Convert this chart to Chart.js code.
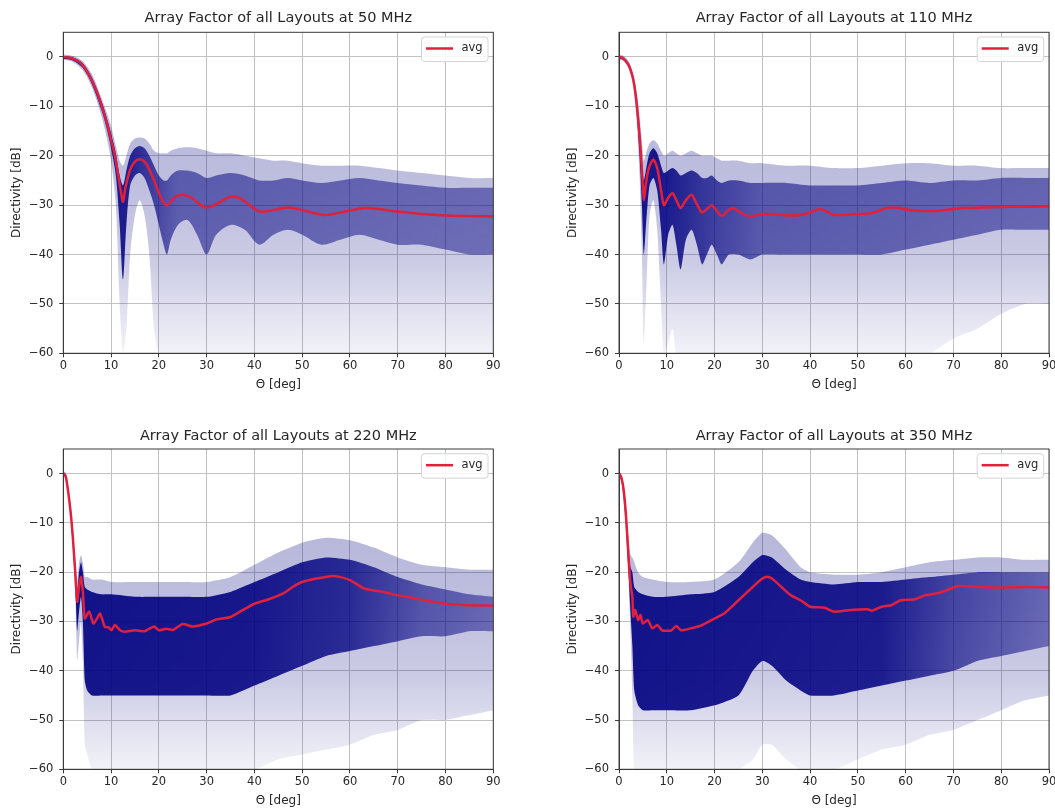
<!DOCTYPE html>
<html><head><meta charset="utf-8">
<script src="https://cdn.jsdelivr.net/npm/chart.js@4"></script>
<style>
html,body{margin:0;padding:0;background:#fff;}
body{width:1055px;height:810px;position:relative;overflow:hidden;}
canvas{position:absolute;}
</style></head><body>
<canvas id="c1" width="527" height="405" style="left:0;top:0"></canvas>
<canvas id="c2" width="499" height="405" style="left:556px;top:0"></canvas>
<canvas id="c3" width="527" height="405" style="left:0;top:405px"></canvas>
<canvas id="c4" width="499" height="405" style="left:556px;top:405px"></canvas>
<script>
// ---------- titles ----------
const titles = ['Array Factor of all Layouts at 50 MHz','Array Factor of all Layouts at 110 MHz','Array Factor of all Layouts at 220 MHz','Array Factor of all Layouts at 350 MHz'];
const xLabel = '\u0398 [deg]';
const yLabel = 'Directivity [dB]';
const legendLabel = 'avg';

// ---------- 50 MHz ----------
const theta50 = [0,1,2,3,4,5,6,7,8,9,10,10.8,11.5,12,12.5,13,14,15,16,17,18,19,20,21,21.7,22.5,23.5,25,27,28.5,30,32,35,37,39,41,44,47,50,54.5,58,63,66,70,75,80,85,90];
const avg50 = [0,-0.1,-0.35,-0.8,-1.6,-3,-4.8,-7,-9.8,-13,-16.8,-20,-24,-27,-29.3,-26.5,-22.8,-21.2,-20.7,-21.2,-22.8,-25,-27.5,-29.5,-30,-29.3,-28.3,-27.9,-28.6,-29.8,-30.5,-29.8,-28.3,-28.6,-30,-31.3,-31,-30.5,-31,-32,-31.5,-30.6,-30.8,-31.3,-31.8,-32.1,-32.2,-32.3];
const env50 = [0,2,4,6,8,9,10,11,11.8,12.5,13.2,14,15,16,17,18,19,20,21,21.7,22.5,24,26,28,30,32,35,38,41,44,47,50,54,58,62,66,70,75,80,85,90];
const hi50 = [0.5,0.2,-0.8,-3.5,-8.3,-11,-14,-18,-21,-22,-20,-17.5,-16.5,-16.3,-16.5,-17.5,-19,-19.5,-19.5,-19.5,-19,-18.5,-18.3,-18.5,-19,-19.5,-19.5,-20,-20.5,-21,-21,-21.5,-22,-22,-22,-22.5,-23,-23.5,-24,-24.5,-24.5];
const coreHi50 = [0.2,-0.1,-1.2,-4.2,-9,-12,-15.5,-19.5,-24,-26,-23,-20,-18.5,-18,-18.5,-20,-22,-24,-25,-25,-24,-23,-23,-23.5,-24.5,-24,-23.5,-24,-25,-25,-24.5,-25,-25.5,-25,-24.5,-25,-25.5,-26,-26.5,-26.5,-26.5];
const coreLo50 = [-0.3,-0.7,-2.1,-5.5,-10.8,-14.2,-18.5,-24,-34,-45,-34,-26,-24,-23.5,-24.5,-27,-30,-34,-38,-40,-37,-34,-33,-36,-40,-36,-34,-35,-38,-36,-35,-36,-38,-37,-36,-37,-38,-38,-39,-40,-40];
const lo50 = [-0.5,-1,-2.6,-6.2,-12,-16,-21,-30,-50,-60,-55,-40,-32,-29,-32,-40,-55,-60,-60,-60,-60,-60,-60,-60,-60,-60,-60,-60,-60,-60,-60,-60,-60,-60,-60,-60,-60,-60,-60,-60,-60];

// ---------- 110 MHz ----------
const theta110 = [0,0.5,1,1.5,2,2.5,3,3.5,4,4.5,5,5.2,5.6,6,6.5,7.2,8,8.8,9.4,10.3,11.2,12,12.9,14,15.2,16.3,17.4,18.4,19.4,20.5,21.5,22.7,23.8,25.5,27.4,30,33,36,38,40,42,43.5,45,50,53,56,58,60,62,66,69,72,76,80,85,90];
const avg110 = [0,-0.1,-0.4,-0.9,-1.6,-2.8,-4.6,-7.8,-12.5,-18.5,-26,-29,-26,-23.5,-21.8,-20.8,-22.5,-27,-30,-28.5,-27.6,-29,-30.6,-29,-27.9,-29.8,-31.5,-30.8,-30,-31.2,-32.2,-31.2,-30.6,-31.5,-32.3,-31.8,-31.9,-32.1,-32,-31.5,-30.8,-31.3,-32,-31.8,-31.6,-30.6,-30.5,-30.9,-31.1,-31.2,-30.9,-30.6,-30.5,-30.4,-30.3,-30.2];
const env110 = [0,1,2,3,3.7,4.3,4.8,5.2,5.8,6.4,7.2,8,8.8,9.4,10.3,11.2,12,12.9,14,15.2,16.3,17.4,18.4,19.4,20.5,21.5,23,25,27.5,30,35,40,45,50,55,60,65,70,75,80,85,90];
const hi110 = [0.5,0.2,-0.8,-3.5,-7,-12,-17,-21,-19,-17.5,-16.8,-17.5,-19,-20,-19.5,-19,-19.5,-20,-19.5,-19,-19.5,-20,-20,-20,-20.5,-21,-21,-21,-21.5,-21.5,-22,-22,-22.5,-22.5,-22,-21.5,-21.5,-22,-22,-22.5,-22.5,-22.5];
const coreHi110 = [0.2,-0.2,-1.3,-4.2,-8.5,-14,-21,-25,-22,-19.5,-18.5,-19.5,-22,-23.5,-23,-22.5,-23,-24,-23.5,-23,-23.5,-24.5,-24.5,-24,-25,-25.5,-25,-25,-25.5,-25.5,-25.5,-26,-26,-26,-25.5,-25,-25.5,-25,-25,-24.5,-24.5,-24.5];
const coreLo110 = [-0.3,-0.6,-1.9,-5,-11,-20,-30,-40,-32,-26,-24.5,-27,-35,-42,-36,-34,-38,-43,-37,-35,-38,-42,-40,-38,-40,-42,-40,-40,-41,-40,-40,-40,-40,-40,-40,-39,-38,-37,-36,-35,-35,-35];
const lo110 = [-0.5,-0.9,-2.4,-6,-13,-24,-40,-58,-45,-32,-29,-35,-50,-60,-58,-55,-60,-60,-60,-60,-60,-60,-60,-60,-60,-60,-60,-60,-60,-60,-60,-60,-60,-60,-60,-60,-60,-57,-55,-52,-50,-50];

// ---------- 220 MHz ----------
const theta220 = [0,0.5,1,1.5,1.75,2,2.5,2.9,3.3,3.7,4.1,4.5,5.4,6.3,7,7.7,8.7,9.5,10.1,10.8,11.9,12.9,15,17,19,20,21.5,23,25,27,30,32,35,37,40,43,46,48,50,53,56,58,60,63,67,70,73,76,80,85,90];
const avg220 = [0,-0.5,-3.5,-7.5,-10,-13,-20,-26,-23,-21,-24,-29.4,-28,-30.4,-29.5,-28.4,-31.1,-31.2,-31.8,-30.7,-31.8,-32.1,-31.8,-32,-31,-31.8,-31.5,-31.7,-30.5,-31,-30.4,-29.6,-29.1,-28,-26.4,-25.5,-24.3,-23,-22,-21.3,-20.8,-21,-21.6,-23.3,-24,-24.7,-25.2,-25.8,-26.4,-26.7,-26.8];
const env220 = [0,0.5,1,1.5,2,2.5,2.9,3.3,3.7,4.1,4.5,5,6,8,10,15,20,25,30,35,40,45,50,55,60,65,70,75,80,85,90];
const hi220 = [0.5,0.3,-2.5,-6,-11.5,-18,-22,-18,-16.5,-18,-21,-21,-21.5,-21.5,-22,-22,-22,-22,-22,-21,-18.5,-16,-14,-13,-13.5,-15,-17,-18.5,-19,-19.5,-19.5];
const coreHi220 = [0.2,-0.2,-3,-7,-12.5,-19.5,-24,-20,-18,-20,-23,-23.5,-24,-24.5,-24.5,-25,-25,-25,-25,-24,-22,-20,-18,-17,-17.5,-19,-21,-22.5,-23.5,-24.5,-25];
const coreLo220 = [-0.3,-0.8,-4,-8,-14,-22,-32,-28,-25,-30,-42,-44,-45,-45,-45,-45,-45,-45,-45,-45,-43,-41,-39,-37,-36,-35,-34,-33,-33,-32,-32];
const lo220 = [-0.5,-1,-4.5,-9,-15,-24,-38,-34,-30,-38,-55,-57,-60,-60,-60,-60,-60,-60,-60,-60,-60,-58,-57,-56,-55,-53,-52,-50,-50,-49,-48];

// ---------- 350 MHz ----------
const theta350 = [0,0.5,1,1.5,2,2.4,2.8,3,3.4,4,4.5,5,6,7,8,9,10,11,12,13,15,17,20,22,25,28,30,31,32,34,36,38,40,43,45,48,52,53,55,57,59,62,64,67,70,71,75,80,85,90];
const avg350 = [0,-0.8,-3.5,-9,-17,-22.3,-25,-29,-27.7,-29.7,-28.7,-30.4,-29.7,-31.4,-30.7,-31.8,-31.9,-31.8,-30.9,-31.8,-31.4,-30.9,-29.4,-28.4,-25.7,-23,-21.3,-20.9,-21.3,-23,-24.7,-25.7,-27,-27.2,-28,-27.7,-27.5,-27.8,-27,-26.7,-25.7,-25.5,-24.7,-24.2,-23.1,-22.8,-23,-23.1,-23,-23.1];
const env350 = [0,0.5,1,1.5,2,2.4,2.8,3.2,4,5,7,10,15,20,25,28,30,32,35,38,40,45,50,55,60,65,70,75,80,85,90];
const hi350 = [0.5,0,-2.5,-7.5,-13,-16.5,-17,-18,-20,-21,-21.5,-22,-22,-21.5,-18,-14,-12,-12.5,-15.5,-19,-20,-20.5,-20.5,-20,-19,-18,-17.5,-17,-17,-17.5,-17.5];
const coreHi350 = [0.2,-0.4,-3.2,-8.5,-15,-19,-20,-23,-24,-24.5,-25,-25,-24.5,-24,-21,-18,-16.5,-17,-19.5,-21.5,-22,-22.5,-22,-22,-21.5,-21,-20.5,-20,-20,-20,-20];
const coreLo350 = [-0.3,-1.2,-5,-11,-20,-28,-35,-44,-47,-48,-48,-48,-48,-47,-45,-40,-38,-39,-42,-44,-45,-45,-44,-43,-42,-41,-40,-38,-37,-36,-35];
const lo350 = [-0.5,-1.6,-6,-12,-22,-32,-45,-60,-60,-60,-60,-60,-60,-60,-60,-58,-55,-55,-58,-60,-60,-60,-58,-56,-55,-53,-52,-50,-48,-46,-45];

// ---------- styling / layout ----------
const FONT = "'DejaVu Sans', 'Liberation Sans', sans-serif";
const TXT = '#262626';
const RED = '#e0203c';
const panels = [
  {id:'c1', title:titles[0], w:527, h:405, area:{l:63.3,t:32.3,r:493.3,b:353.3}, titleY:18.5, xLabY:385,
   theta:theta50, avg:avg50, env:env50, hi:hi50, cHi:coreHi50, cLo:coreLo50, lo:lo50,
   coreStops:[[0,0.9],[13,0.85],[17,0.72],[24,0.52],[90,0.46]], tension:0.3},
  {id:'c2', title:titles[1], w:499, h:405, area:{l:63,t:32.3,r:493,b:353.3}, titleY:18.5, xLabY:385,
   theta:theta110, avg:avg110, env:env110, hi:hi110, cHi:coreHi110, cLo:coreLo110, lo:lo110,
   coreStops:[[0,0.9],[10,0.86],[20,0.68],[30,0.55],[90,0.48]], tension:0.25},
  {id:'c3', title:titles[2], w:527, h:405, area:{l:63.3,t:44,r:493.3,b:364.3}, titleY:31, xLabY:396,
   theta:theta220, avg:avg220, env:env220, hi:hi220, cHi:coreHi220, cLo:coreLo220, lo:lo220,
   coreStops:[[0,0.9],[40,0.88],[60,0.78],[75,0.56],[90,0.46]], tension:0.2},
  {id:'c4', title:titles[3], w:499, h:405, area:{l:63,t:44,r:493,b:364.3}, titleY:31, xLabY:396,
   theta:theta350, avg:avg350, env:env350, hi:hi350, cHi:coreHi350, cLo:coreLo350, lo:lo350,
   coreStops:[[0,0.9],[55,0.86],[70,0.64],[90,0.46]], tension:0.2}
];

function pts(xs, ys){ return xs.map((x,i)=>({x:x, y:ys[i]})); }

const framePlugin = {
  id:'frame',
  afterDatasetsDraw(chart){
    const a = chart.chartArea, c = chart.ctx;
    c.save();
    c.strokeStyle = '#3a3a3a'; c.lineWidth = 1;
    c.strokeRect(a.left, a.top, a.right - a.left, a.bottom - a.top);
    // legend
    const bw = 66.5, bh = 24.5;
    const x = a.right - 5.3 - bw, y = a.top + 4.7;
    c.beginPath();
    if (c.roundRect) c.roundRect(x, y, bw, bh, 3); else c.rect(x, y, bw, bh);
    c.fillStyle = 'rgba(255,255,255,0.85)'; c.fill();
    c.strokeStyle = '#d4d4d4'; c.lineWidth = 1; c.stroke();
    c.beginPath(); c.moveTo(x + 4.5, y + 11.5); c.lineTo(x + 31.5, y + 11.5);
    c.strokeStyle = RED; c.lineWidth = 2.5; c.stroke();
    c.fillStyle = TXT; c.font = "11.5px " + FONT; c.textBaseline = 'middle'; c.textAlign = 'left';
    c.fillText(legendLabel, x + 40, y + 11.5);
    c.restore();
  }
};

panels.forEach(p => {
  const faintColor = (ctx) => {
    const ch = ctx.chart;
    if (!ch.chartArea || !ch.scales.y) return 'rgba(0,0,128,0.18)';
    const ys = ch.scales.y;
    const g = ch.ctx.createLinearGradient(0, ys.getPixelForValue(0), 0, ys.getPixelForValue(-60));
    g.addColorStop(0, 'rgba(0,0,128,0.30)');
    g.addColorStop(0.4, 'rgba(0,0,128,0.26)');
    g.addColorStop(0.7, 'rgba(0,0,128,0.2)');
    g.addColorStop(0.85, 'rgba(0,0,128,0.12)');
    g.addColorStop(1, 'rgba(0,0,128,0.05)');
    return g;
  };
  const coreColor = (ctx) => {
    const ch = ctx.chart;
    if (!ch.chartArea || !ch.scales.x) return 'rgba(0,0,128,0.6)';
    const xs = ch.scales.x;
    const x0 = xs.getPixelForValue(0), x1 = xs.getPixelForValue(90);
    const g = ch.ctx.createLinearGradient(x0, 0, x1, 0);
    p.coreStops.forEach(s => g.addColorStop(s[0] / 90, 'rgba(0,0,128,' + s[1] + ')'));
    return g;
  };
  const band = {borderWidth:0, pointRadius:0, tension:p.tension, borderColor:'rgba(0,0,0,0)'};
  new Chart(document.getElementById(p.id), {
    type:'line',
    data:{ datasets:[
      {label:legendLabel, data:pts(p.theta, p.avg), borderColor:RED, borderWidth:2.5, pointRadius:0, tension:p.tension, fill:false},
      Object.assign({label:'coreHi', data:pts(p.env, p.cHi), fill:'+1', backgroundColor:coreColor}, band),
      Object.assign({label:'coreLo', data:pts(p.env, p.cLo), fill:false}, band),
      Object.assign({label:'hi', data:pts(p.env, p.hi), fill:'+1', backgroundColor:faintColor}, band),
      Object.assign({label:'lo', data:pts(p.env, p.lo), fill:false}, band)
    ]},
    options:{
      responsive:false, animation:false, devicePixelRatio:1,
      layout:{padding:{left:0, top:0, right:p.w - p.area.r, bottom:0}},
      plugins:{
        legend:{display:false}, tooltip:{enabled:false},
        title:{display:true, text:p.title, fullSize:false, color:TXT,
               font:{family:FONT, size:14.5, weight:'normal'},
               padding:{top:p.titleY - 8.7, bottom:p.area.t - p.titleY - 8.7}}
      },
      scales:{
        x:{type:'linear', min:0, max:90,
           afterFit:(s)=>{ s.height = p.h - p.area.b; s.paddingLeft = 0; s.paddingRight = 0; },
           ticks:{stepSize:10, padding:2, maxRotation:0, autoSkip:false, color:TXT, font:{family:FONT, size:11.5}},
           grid:{color:'#c2c2c2', lineWidth:1, tickLength:4, tickColor:'#3a3a3a', drawTicks:true},
           border:{color:'#3a3a3a', width:1},
           title:{display:true, text:xLabel, color:TXT, font:{family:FONT, size:12},
                  padding:{top:0, bottom:p.h - p.xLabY - 7.2}}},
        y:{type:'linear', min:-60, max:5,
           afterBuildTicks:(s)=>{ s.ticks = s.ticks.filter(t => t.value % 10 === 0); },
           afterFit:(s)=>{ s.width = p.area.l; },
           ticks:{stepSize:10, padding:6, color:TXT, font:{family:FONT, size:11.5},
                  callback:(v)=> String(v).replace('-', '\u2212')},
           grid:{color:'#c2c2c2', lineWidth:1, tickLength:4, tickColor:'#3a3a3a', drawTicks:true},
           border:{color:'#3a3a3a', width:1},
           title:{display:true, text:yLabel, color:TXT, font:{family:FONT, size:12},
                  padding:{top:10, bottom:0}}}
      }
    },
    plugins:[framePlugin]
  });
});
</script>
</body></html>
